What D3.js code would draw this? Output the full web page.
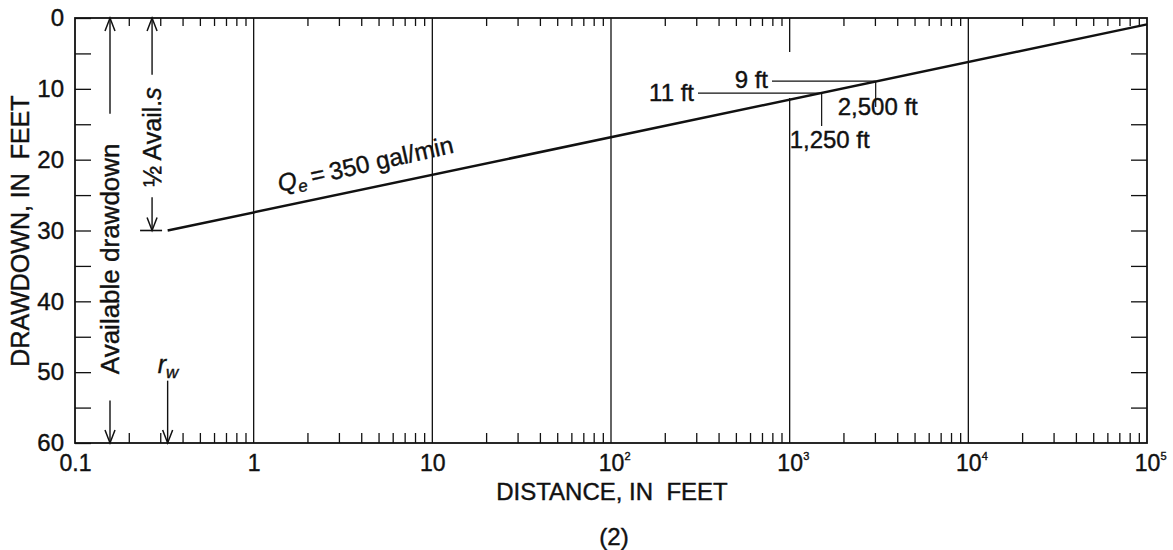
<!DOCTYPE html>
<html>
<head>
<meta charset="utf-8">
<script src="https://cdn.jsdelivr.net/npm/d3@7"></script>
<style>
  body { margin: 0; background: #fff; }
  text { font-family: "Liberation Sans", Arial, sans-serif; fill: #111; stroke: #111; stroke-width: 0.4px; }
</style>
</head>
<body>
<svg width="1173" height="550"></svg>
<script>
// data
const xMajor = [0.1, 1, 10, 100, 1000, 10000, 100000];
const xBase = ["0.1", "1", "10", "10", "10", "10", "10"];
const xExp = ["", "", "", "2", "3", "4", "5"];
const gridX = [1, 10, 100, 10000];
const yTicks = d3.range(0, 61, 5);
const lineX = [0.33, 100000];
const lineS = [30, 0.9];
const rw = 0.33;
const availX = 0.157, availS = 60;
const halfX = 0.27, halfS = 30;
const notesX = [1510, 3030];
const notesS = [10.6, 8.9];
const notesLeft = ["11 ft", "9 ft"];
const notesDown = ["1,250 ft", "2,500 ft"];

let width = 1173, height = 550;
let margin = {top: 18, right: 26, bottom: 107, left: 75};

let svg = d3.select("svg");

x = d3.scaleLog()
    .domain([0.1, 100000])
    .range([margin.left, width - margin.right]);
y = d3.scaleLinear()
    .domain([0, 60])
    .range([margin.top, height - margin.bottom]);

const ink = "#111";
let minor = [];
xMajor.slice(0, -1).forEach(d => { for (let k = 2; k < 10; k++) minor.push(d * k); });

// gridlines
svg.append("g").selectAll("line").data(gridX).join("line")
    .attr("x1", d => x(d)).attr("x2", d => x(d))
    .attr("y1", y(0)).attr("y2", y(60))
    .attr("stroke", ink).attr("stroke-width", 1.3);
// 10^3 line is broken by the notes
svg.append("line")
    .attr("x1", x(1000)).attr("x2", x(1000))
    .attr("y1", y(0)).attr("y2", y(4.8))
    .attr("stroke", ink).attr("stroke-width", 1.3);
svg.append("line")
    .attr("x1", x(1000)).attr("x2", x(1000))
    .attr("y1", y(11.3)).attr("y2", y(60))
    .attr("stroke", ink).attr("stroke-width", 1.3);

// minor ticks
svg.append("g")
    .attr("transform", "translate(0," + y(60) + ")")
    .call(d3.axisBottom(x).tickValues(minor).tickSize(-10).tickSizeOuter(0).tickFormat(""))
    .call(g => g.select(".domain").remove())
    .call(g => g.selectAll("line").attr("stroke", ink).attr("stroke-width", 1.3));
svg.append("g")
    .attr("transform", "translate(0," + y(0) + ")")
    .call(d3.axisTop(x).tickValues(minor).tickSize(-8).tickSizeOuter(0).tickFormat(""))
    .call(g => g.select(".domain").remove())
    .call(g => g.selectAll("line").attr("stroke", ink).attr("stroke-width", 1.3));

// x labels
let xl = svg.append("g")
    .attr("transform", "translate(0," + y(60) + ")")
    .call(d3.axisBottom(x).tickValues(xMajor).tickSize(0).tickPadding(12).tickFormat((d, i) => xBase[i]))
    .call(g => g.select(".domain").remove());
xl.selectAll("text").attr("font-size", 23).attr("fill", ink);
xl.selectAll(".tick").append("text")
    .attr("x", 13).attr("y", 17)
    .attr("text-anchor", "start")
    .attr("font-size", 11)
    .text((d, i) => xExp[i]);

// y axis
let yl = svg.append("g")
    .attr("transform", "translate(" + x(0.1) + ",0)")
    .call(d3.axisLeft(y).tickValues(yTicks).tickSize(-16).tickSizeOuter(0).tickPadding(11)
        .tickFormat(d => d % 10 ? "" : d))
    .call(g => g.select(".domain").remove());
yl.selectAll("line").attr("stroke", ink).attr("stroke-width", 1.3);
yl.selectAll("text").attr("font-size", 24).attr("fill", ink);
svg.append("g")
    .attr("transform", "translate(" + x(100000) + ",0)")
    .call(d3.axisRight(y).tickValues(yTicks.slice(1, -1)).tickSize(-16).tickSizeOuter(0).tickFormat(""))
    .call(g => g.select(".domain").remove())
    .call(g => g.selectAll("line").attr("stroke", ink).attr("stroke-width", 1.3));

// frame
svg.append("rect")
    .attr("x", x(0.1)).attr("y", y(0))
    .attr("width", x(100000) - x(0.1)).attr("height", y(60) - y(0))
    .attr("fill", "none").attr("stroke", ink).attr("stroke-width", 1.8);

// drawdown line
let pts = lineX.map((d, i) => [d, lineS[i]]);
svg.append("path")
    .datum(pts)
    .attr("fill", "none").attr("stroke", ink).attr("stroke-width", 2.5)
    .attr("d", d3.line().x(d => x(d[0])).y(d => y(d[1])));

let ang = Math.atan2(y(lineS[1]) - y(lineS[0]), x(lineX[1]) - x(lineX[0])) * 180 / Math.PI;
let qx = 1.4, qs = lineS[0] + (lineS[1] - lineS[0]) * (Math.log10(qx / lineX[0]) / Math.log10(lineX[1] / lineX[0]));
let qt = svg.append("text")
    .attr("transform", "translate(" + x(qx) + "," + (y(qs) - 15) + ") rotate(" + (ang - 0.8) + ")")
    .attr("font-size", 24.5);
qt.append("tspan").attr("font-style", "italic").text("Q");
qt.append("tspan").attr("font-style", "italic").attr("font-size", 17).attr("dy", 5).text("e");
qt.append("tspan").attr("dy", -5).text("\u2009=\u2009350 gal/min");

// arrows
function arrow(px, py, dir) {
    svg.append("path")
        .attr("d", "M" + (px - 5) + "," + (py - dir * 13) + "L" + px + "," + py + "L" + (px + 5) + "," + (py - dir * 13))
        .attr("fill", "none").attr("stroke", ink).attr("stroke-width", 1.5);
}
function vline(px, y1, y2) {
    svg.append("line").attr("x1", px).attr("x2", px).attr("y1", y1).attr("y2", y2)
        .attr("stroke", ink).attr("stroke-width", 1.4);
}

// available drawdown
let ax = x(availX);
vline(ax, y(0), y(13.5)); arrow(ax, y(0), -1);
vline(ax, y(54), y(availS)); arrow(ax, y(availS), 1);
svg.append("text")
    .attr("transform", "translate(" + (ax + 9) + "," + y(34) + ") rotate(-90)")
    .attr("text-anchor", "middle").attr("font-size", 26)
    .text("Available drawdown");

// half available
let hx = x(halfX);
vline(hx, y(0), y(8)); arrow(hx, y(0), -1);
vline(hx, y(25.3), y(halfS)); arrow(hx, y(halfS), 1);
svg.append("line").attr("x1", hx - 12).attr("x2", hx + 10).attr("y1", y(halfS)).attr("y2", y(halfS))
    .attr("stroke", ink).attr("stroke-width", 1.6);
let ht = svg.append("text")
    .attr("transform", "translate(" + (hx + 9) + "," + y(16.8) + ") rotate(-90)")
    .attr("text-anchor", "middle").attr("font-size", 25);
ht.append("tspan").text("\u00bd Avail.");
ht.append("tspan").attr("font-style", "italic").text("s");

// r_w
let rx = x(rw);
vline(rx, y(51.2), y(60)); arrow(rx, y(60), 1);
let rt = svg.append("text").attr("x", rx - 10).attr("y", y(50.1)).attr("font-size", 25).attr("font-style", "italic");
rt.append("tspan").text("r");
rt.append("tspan").attr("font-size", 17).attr("dy", 5).text("w");

// 1,250 ft and 2,500 ft notes
const leftEnd = [698, 772];
notesX.forEach((d, i) => {
    let px = x(d), py = y(notesS[i]);
    svg.append("line").attr("x1", leftEnd[i]).attr("x2", px).attr("y1", py).attr("y2", py)
        .attr("stroke", ink).attr("stroke-width", 1.2);
    svg.append("text").attr("x", leftEnd[i] - 4).attr("y", py + (i ? 7 : 8))
        .attr("text-anchor", "end").attr("font-size", 24).text(notesLeft[i]);
    svg.append("line").attr("x1", px).attr("x2", px).attr("y1", py).attr("y2", py + (i ? 26 : 33))
        .attr("stroke", ink).attr("stroke-width", 1.2);
    svg.append("text").attr("x", i ? px - 38 : px - 32).attr("y", py + (i ? 34 : 55))
        .attr("font-size", 24).text(notesDown[i]);
});

// titles
svg.append("text")
    .attr("transform", "translate(29,231) rotate(-90)")
    .attr("text-anchor", "middle").attr("font-size", 25)
    .text("DRAWDOWN, IN\u00a0 FEET");
svg.append("text")
    .attr("x", 612).attr("y", 500)
    .attr("text-anchor", "middle").attr("font-size", 24)
    .text("DISTANCE, IN\u00a0 FEET");
svg.append("text")
    .attr("x", 614).attr("y", 545)
    .attr("text-anchor", "middle").attr("font-size", 24)
    .text("(2)");
</script>
</body>
</html>
